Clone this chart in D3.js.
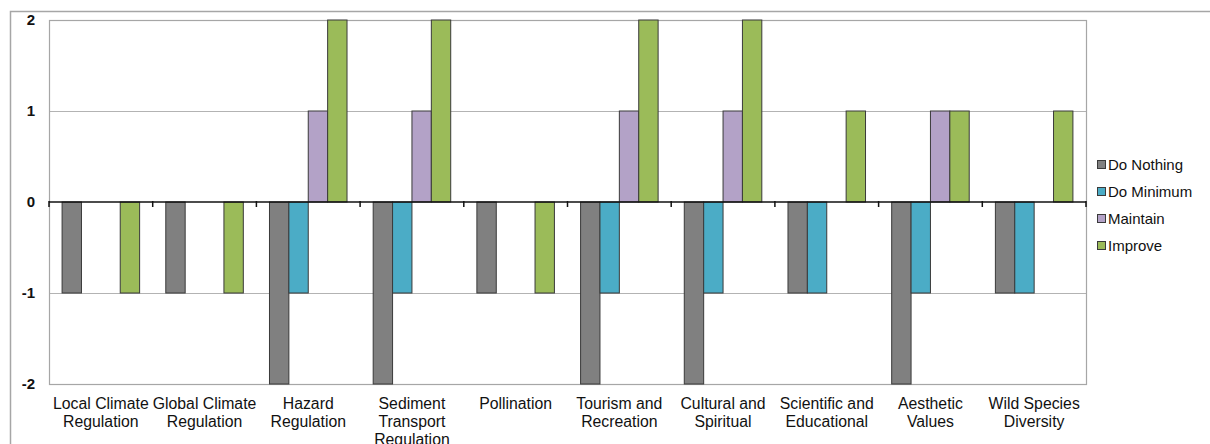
<!DOCTYPE html>
<html>
<head>
<meta charset="utf-8">
<script src="https://cdn.jsdelivr.net/npm/d3@7"></script>
<style>
  html, body { margin: 0; padding: 0; background: #fff; }
  svg { display: block; font-family: "Liberation Sans", Arial, sans-serif; }
</style>
</head>
<body>
<svg id="chart" width="1210" height="444"></svg>
<script>
// Ecosystem service categories (line breaks mark label wrapping)
const categories = [
  "Local Climate\nRegulation",
  "Global Climate\nRegulation",
  "Hazard\nRegulation",
  "Sediment\nTransport\nRegulation",
  "Pollination",
  "Tourism and\nRecreation",
  "Cultural and\nSpiritual",
  "Scientific and\nEducational",
  "Aesthetic\nValues",
  "Wild Species\nDiversity"
];

const seriesNames = ["Do Nothing", "Do Minimum", "Maintain", "Improve"];

// Scores per option, one entry per category
const doNothing = [-1, -1, -2, -2, -1, -2, -2, -1, -2, -1];
const doMinimum = [ 0,  0, -1, -1,  0, -1, -1, -1, -1, -1];
const maintain  = [ 0,  0,  1,  1,  0,  1,  1,  0,  1,  0];
const improve   = [-1, -1,  2,  2, -1,  2,  2,  1,  1,  1];

const yTicks = [-2, -1, 0, 1, 2];

const seriesValues = [doNothing, doMinimum, maintain, improve];
const colors = ["#808080", "#4bacc6", "#b3a2c7", "#9bbb59"];

const svg = d3.select("#chart");

// Outer chart frame
svg.append("rect")
  .attr("x", 10.5).attr("y", 11.5)
  .attr("width", 1230).attr("height", 460)
  .attr("fill", "none").attr("stroke", "#a6a6a6").attr("stroke-width", 1.5);

const plot = { left: 49, right: 1086, top: 20, bottom: 384 };

const x0 = d3.scaleBand()
  .domain(d3.range(categories.length))
  .range([plot.left, plot.right])
  .paddingInner(0).paddingOuter(0);

const x1 = d3.scaleBand()
  .domain(d3.range(seriesNames.length))
  .range([0, x0.bandwidth()])
  .paddingInner(0)
  .paddingOuter(0.675);

const y = d3.scaleLinear()
  .domain([-2, 2])
  .range([plot.bottom, plot.top]);

// Horizontal gridlines
svg.append("g")
  .selectAll("line")
  .data(yTicks.filter(t => t !== 0))
  .join("line")
  .attr("x1", plot.left).attr("x2", plot.right)
  .attr("y1", d => Math.round(y(d)) + 0.5).attr("y2", d => Math.round(y(d)) + 0.5)
  .attr("stroke", "#b3b3b3").attr("stroke-width", 1);

// Plot area border
svg.append("rect")
  .attr("x", plot.left + 0.5).attr("y", plot.top + 0.5)
  .attr("width", plot.right - plot.left).attr("height", plot.bottom - plot.top)
  .attr("fill", "none").attr("stroke", "#a6a6a6").attr("stroke-width", 1.2);

// Y axis labels
const yAxis = svg.append("g")
  .attr("transform", `translate(${plot.left},0)`)
  .call(d3.axisLeft(y).tickValues(yTicks).tickSize(0).tickPadding(14).tickFormat(d => String(d)));
yAxis.select(".domain").remove();
yAxis.selectAll("text")
  .attr("font-size", 15).attr("font-weight", "bold").attr("fill", "#111")
  .style("font-family", "'Liberation Sans', Arial, sans-serif");

// Bars
const groups = svg.append("g")
  .selectAll("g")
  .data(categories.map((c, i) => i))
  .join("g")
  .attr("transform", i => `translate(${x0(i)},0)`);

groups.selectAll("rect")
  .data(i => seriesValues.map((vals, s) => ({ s, v: vals[i] })).filter(d => d.v !== 0))
  .join("rect")
  .attr("x", d => x1(d.s))
  .attr("width", x1.bandwidth())
  .attr("y", d => y(Math.max(0, d.v)))
  .attr("height", d => Math.abs(y(d.v) - y(0)))
  .attr("fill", d => colors[d.s])
  .attr("stroke", "#3a3a3a")
  .attr("stroke-width", 1);

// Zero axis with category tick marks
const xAxis = svg.append("g")
  .attr("transform", `translate(0,${y(0)})`);
xAxis.append("line")
  .attr("x1", plot.left).attr("x2", plot.right)
  .attr("stroke", "#111").attr("stroke-width", 1.5);
xAxis.selectAll("line.tick")
  .data(d3.range(categories.length + 1))
  .join("line")
  .attr("class", "tick")
  .attr("x1", i => plot.left + i * x0.step())
  .attr("x2", i => plot.left + i * x0.step())
  .attr("y1", -1).attr("y2", 5)
  .attr("stroke", "#111").attr("stroke-width", 1.5);

// Category labels
const labels = svg.append("g")
  .selectAll("text")
  .data(categories)
  .join("text")
  .attr("x", (c, i) => x0(i) + x0.bandwidth() / 2)
  .attr("y", 409)
  .attr("text-anchor", "middle")
  .attr("font-size", 15.8)
  .attr("fill", "#111");
labels.selectAll("tspan")
  .data(c => c.split("\n"))
  .join("tspan")
  .attr("x", function () { return d3.select(this.parentNode).attr("x"); })
  .attr("dy", (d, j) => j === 0 ? 0 : 18)
  .text(d => d);

// Legend
const legend = svg.append("g")
  .attr("transform", "translate(1097,165)");
const items = legend.selectAll("g")
  .data(seriesNames)
  .join("g")
  .attr("transform", (d, i) => `translate(0,${i * 27})`);
items.append("rect")
  .attr("x", 0.5).attr("y", -4.5)
  .attr("width", 8).attr("height", 8)
  .attr("fill", (d, i) => colors[i])
  .attr("stroke", "#3a3a3a").attr("stroke-width", 1);
items.append("text")
  .attr("x", 11).attr("y", 0)
  .attr("dy", "0.35em")
  .attr("font-size", 15)
  .attr("fill", "#111")
  .text(d => d);
</script>
</body>
</html>
